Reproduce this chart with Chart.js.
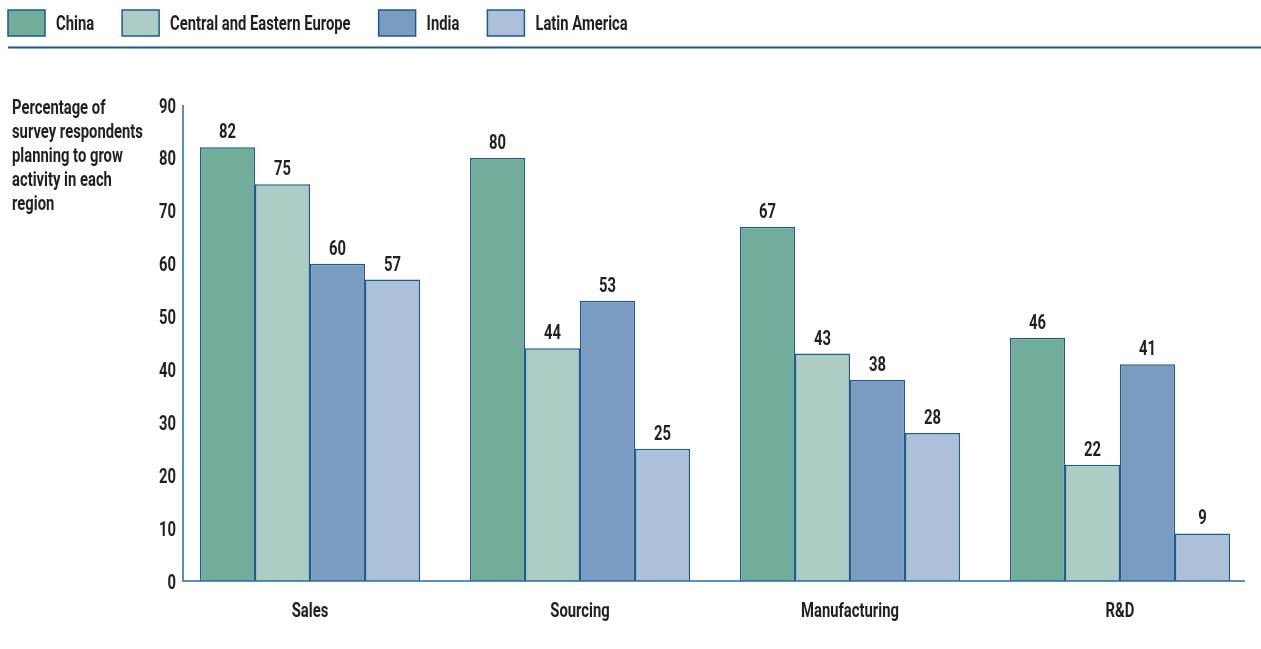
<!DOCTYPE html>
<html>
<head>
<meta charset="utf-8">
<script src="https://cdn.jsdelivr.net/npm/chart.js@4.4.1/dist/chart.umd.min.js"></script>
<style>
  html, body { margin: 0; padding: 0; background: #fff; }
  #wrap { width: 1261px; height: 649px; position: relative; }
</style>
</head>
<body>
<div id="wrap"><canvas id="growth"></canvas></div>
<script>
const categories = ['Sales', 'Sourcing', 'Manufacturing', 'R&D'];
const seriesNames = ['China', 'Central and Eastern Europe', 'India', 'Latin America'];
const china = [82, 80, 67, 46];
const centralEasternEurope = [75, 44, 43, 22];
const india = [60, 53, 38, 41];
const latinAmerica = [57, 25, 28, 9];
const yTicks = [0, 10, 20, 30, 40, 50, 60, 70, 80, 90];
const axisTitle = ['Percentage of', 'survey respondents', 'planning to grow', 'activity in each', 'region'];

const FONT = 'bold 20px Roboto, "Noto Sans", sans-serif';
const SQUEEZE = 0.74;   // no condensed face installed, so squeeze the text
const TEXT = '#231f20';
const EDGE = '#1d5b8a';
const fills = ['#72ad9b', '#adcdc4', '#7b9cc2', '#adc0da'];

function narrowText(ctx, str, x, y, align) {
    ctx.save();
    ctx.translate(x, y);
    ctx.scale(SQUEEZE, 1);
    ctx.textAlign = align;
    ctx.fillText(str, 0, 0);
    ctx.restore();
}

// legend row, rule under it, stacked y title, tick labels and axis lines
const decorations = {
    id: 'decorations',
    afterDraw(chart) {
        const ctx = chart.ctx;
        const area = chart.chartArea;
        ctx.save();
        ctx.font = FONT;
        ctx.textBaseline = 'alphabetic';

        let x = 8;
        chart.data.datasets.forEach(function (ds) {
            ctx.fillStyle = ds.backgroundColor;
            ctx.fillRect(x, 10, 37, 26);
            ctx.strokeStyle = EDGE;
            ctx.lineWidth = 1.5;
            ctx.strokeRect(x, 10, 37, 26);
            ctx.fillStyle = TEXT;
            narrowText(ctx, ds.label, x + 48, 30, 'left');
            x += 48 + ctx.measureText(ds.label).width * SQUEEZE + 28;
        });

        ctx.strokeStyle = EDGE;
        ctx.lineWidth = 2;
        ctx.beginPath();
        ctx.moveTo(8, 47.5);
        ctx.lineTo(chart.width, 47.5);
        ctx.stroke();

        ctx.fillStyle = TEXT;
        axisTitle.forEach(function (line, i) {
            narrowText(ctx, line, 12, 114 + i * 24, 'left');
        });

        const yScale = chart.scales.y;
        yTicks.forEach(function (t) {
            narrowText(ctx, String(t), 176, yScale.getPixelForValue(t) + 7.5, 'right');
        });

        const xScale = chart.scales.x;
        categories.forEach(function (c, i) {
            narrowText(ctx, c, xScale.getPixelForValue(i), 617, 'center');
        });

        // axis lines
        const axisX = area.left + 8;
        ctx.strokeStyle = '#2a6a9a';
        ctx.lineWidth = 1.5;
        ctx.beginPath();
        ctx.moveTo(axisX, area.top);
        ctx.lineTo(axisX, area.bottom);
        ctx.lineTo(area.right - 10, area.bottom);
        ctx.stroke();
        ctx.restore();
    }
};

// value labels above each bar
const valueLabels = {
    id: 'valueLabels',
    afterDatasetsDraw(chart) {
        const ctx = chart.ctx;
        ctx.save();
        ctx.font = FONT;
        ctx.fillStyle = TEXT;
        ctx.textBaseline = 'alphabetic';
        chart.data.datasets.forEach(function (ds, i) {
            chart.getDatasetMeta(i).data.forEach(function (bar, j) {
                narrowText(ctx, String(ds.data[j]), bar.x, bar.y - 9, 'center');
            });
        });
        ctx.restore();
    }
};

const values = [china, centralEasternEurope, india, latinAmerica];

new Chart(document.getElementById('growth'), {
    type: 'bar',
    data: {
        labels: categories,
        datasets: values.map(function (v, i) {
            return {
                label: seriesNames[i],
                data: v,
                backgroundColor: fills[i],
                borderColor: EDGE,
                borderWidth: 1.5,
                borderSkipped: 'bottom',
                barPercentage: 1,
                categoryPercentage: 0.815
            };
        })
    },
    options: {
        responsive: true,
        maintainAspectRatio: false,
        animation: false,
        layout: { padding: { top: 105, right: 6, left: 0, bottom: 0 } },
        plugins: {
            legend: { display: false },
            tooltip: { enabled: false }
        },
        scales: {
            x: {
                grid: { display: false },
                border: { display: false },
                ticks: { display: false },
                afterFit: function (scale) { scale.height = 68; }
            },
            y: {
                min: 0,
                max: 90,
                grid: { display: false },
                border: { display: false },
                ticks: { display: false, stepSize: 10 },
                afterFit: function (scale) { scale.width = 175; }
            }
        }
    },
    plugins: [decorations, valueLabels]
});
</script>
</body>
</html>
